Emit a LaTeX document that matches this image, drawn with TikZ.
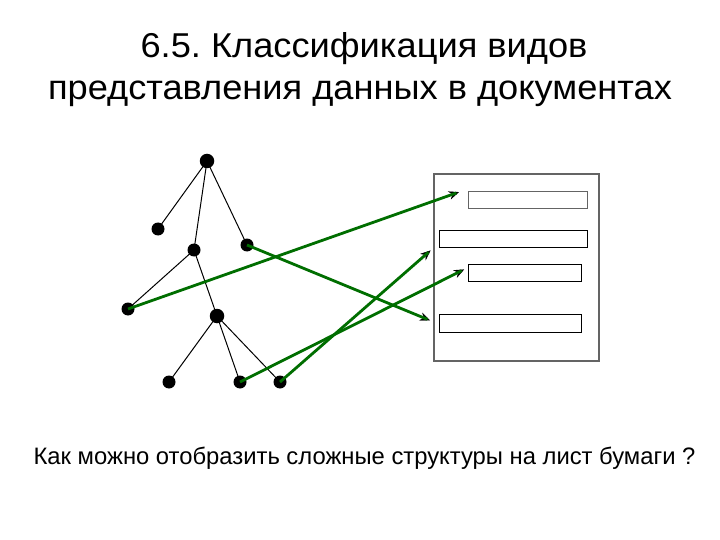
\documentclass[tikz,border=0pt]{standalone}
\usepackage{fontspec}
\setmainfont{Liberation Sans}
\frenchspacing
\usepackage{xcolor}
\definecolor{linkgreen}{RGB}{0,110,0}
\definecolor{framegray}{RGB}{100,100,100}
\usetikzlibrary{positioning, calc, arrows.meta, decorations.markings}
\tikzstyle{Dot} = [circle, fill=black, inner sep=0pt, minimum size=13pt]
\tikzstyle{Branch} = [black, line width=1pt]
\tikzstyle{Field} = [draw=black, line width=1.3pt, inner sep=0pt, anchor=north west]
\tikzstyle{Heading} = [anchor=base, font=\fontsize{34.5}{40}\selectfont, xscale=1.05]
\tikzstyle{Link} = [
linkgreen,
line width=2.8pt,
decoration={
markings,
mark=at position 0.9999 with {
\arrow{Stealth[length=17pt,width=14pt]}}},
shorten >= 6pt, preaction = {decorate}]

\begin{document}
\begin{tikzpicture}[x=1pt, y=-1pt]
    \useasboundingbox (0,0) rectangle (720,540);

    \node [Heading] (title1) at (364,58) {6.5. Классификация видов};
    \node [Heading] (title2) at (360,100) {представления данных в документах};
    \node [anchor=base, font=\fontsize{23.8}{28}\selectfont] (question) at (364.5,464)
        {Как можно отобразить сложные структуры на лист бумаги ?};

    % tree
    \node [Dot, minimum size=14.5pt] (root) at (207,161) {};
    \node [Dot] (a) at (158,229) {};
    \node [Dot] (b) at (194,250) {};
    \node [Dot] (c) at (247,245) {};
    \node [Dot] (d) at (128,309) {};
    \node [Dot, minimum size=14.5pt] (e) at (217,316) {};
    \node [Dot] (f) at (169,382) {};
    \node [Dot] (g) at (240,382) {};
    \node [Dot] (h) at (280,382) {};

    \draw[Branch] (root.center) -- (a.center);
    \draw[Branch] (root.center) -- (b.center);
    \draw[Branch] (root.center) -- (c.center);
    \draw[Branch] (b.center) -- (d.center);
    \draw[Branch] (b.center) -- (e.center);
    \draw[Branch] (e.center) -- (f.center);
    \draw[Branch] (e.center) -- (g.center);
    \draw[Branch] (e.center) -- (h.center);

    % sheet of paper
    \node [draw=framegray, line width=1.8pt, inner sep=0pt, anchor=north west,
        minimum width=165pt, minimum height=187pt] (sheet) at (433,173) {};
    \node [Field, draw=framegray, minimum width=119pt, minimum height=17pt] (r1) at (468,191) {};
    \node [Field, minimum width=148pt, minimum height=17pt] (r2) at (439,230) {};
    \node [Field, minimum width=113pt, minimum height=17pt] (r3) at (468,264) {};
    \node [Field, minimum width=142pt, minimum height=18pt] (r4) at (439,314) {};

    \coordinate (t1) at ($(r1.north west)+(-6,0)$);
    \coordinate (t2) at (sheet.west |- r2.south);
    \coordinate (t3) at ($(r3.north west)+(-1,4)$);
    \coordinate (t4) at ($(r4.west)+(-6,-2)$);

    \draw[Link] (d.center) to (t1);
    \draw[Link] (c.center) to (t4);
    \draw[Link] (g.center) to (t3);
    \draw[Link] (h.center) to (t2);
\end{tikzpicture}
\end{document}
